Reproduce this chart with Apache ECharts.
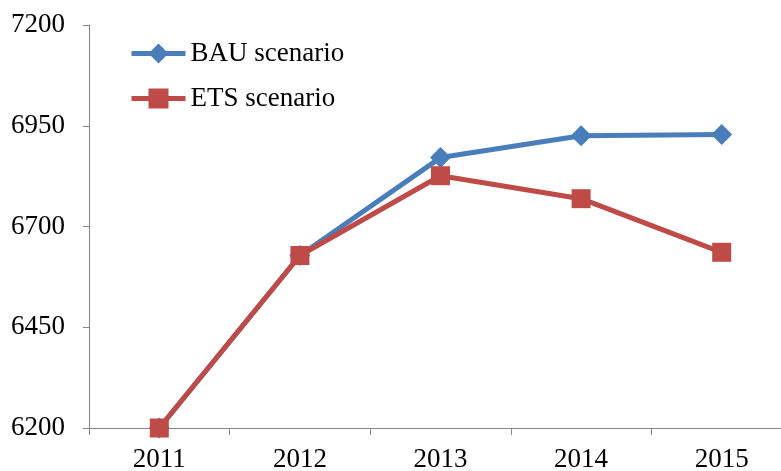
<!DOCTYPE html>
<html>
<head>
<meta charset="utf-8">
<script src="https://cdn.jsdelivr.net/npm/echarts@6/dist/echarts.min.js"></script>
<style>
html,body{margin:0;padding:0;background:#fff;}
#chart{width:781px;height:471px;}
</style>
</head>
<body>
<div id="chart"></div>
<script>
const years = ['2011', '2012', '2013', '2014', '2015'];
const bauValues = [6200, 6628, 6871, 6925, 6928];
const etsValues = [6200, 6628, 6826, 6769, 6636];
const seriesNames = ['BAU scenario', 'ETS scenario'];

const fontFamily = '"Liberation Serif", "Times New Roman", serif';
const axisGray = '#868686';

const chart = echarts.init(document.getElementById('chart'), null, {renderer: 'canvas'});
chart.setOption({
  animation: false,
  backgroundColor: '#ffffff',
  grid: {left: 89, top: 25, width: 703, height: 403, containLabel: false, outerBoundsMode: 'none'},
  legend: {
    orient: 'vertical',
    left: 129,
    top: 40,
    padding: 0,
    itemWidth: 54,
    itemHeight: 25,
    itemGap: 18,
    lineStyle: {width: 5},
    textStyle: {fontFamily: fontFamily, fontSize: 27, color: '#000'},
    data: seriesNames
  },
  xAxis: {
    type: 'category',
    data: years,
    boundaryGap: true,
    axisLine: {lineStyle: {color: axisGray, width: 1}},
    axisTick: {show: true, length: 7, alignWithLabel: false, lineStyle: {color: axisGray}},
    axisLabel: {fontFamily: fontFamily, fontSize: 27, color: '#000', margin: 18},
    splitLine: {show: false}
  },
  yAxis: {
    type: 'value',
    min: 6200,
    max: 7200,
    interval: 250,
    axisLine: {show: true, lineStyle: {color: axisGray, width: 1}},
    axisTick: {show: true, length: 6, lineStyle: {color: axisGray}},
    axisLabel: {fontFamily: fontFamily, fontSize: 27, color: '#000', margin: 24, formatter: function (v) { return String(v); }},
    splitLine: {show: false}
  },
  series: [
    {
      name: seriesNames[0],
      type: 'line',
      data: bauValues,
      symbol: 'diamond',
      symbolSize: 21,
      itemStyle: {color: '#4a7ebb'},
      lineStyle: {color: '#4a7ebb', width: 5}
    },
    {
      name: seriesNames[1],
      type: 'line',
      data: etsValues,
      symbol: 'rect',
      symbolSize: 19,
      itemStyle: {color: '#be4b48'},
      lineStyle: {color: '#be4b48', width: 5}
    }
  ]
});
</script>
</body>
</html>
